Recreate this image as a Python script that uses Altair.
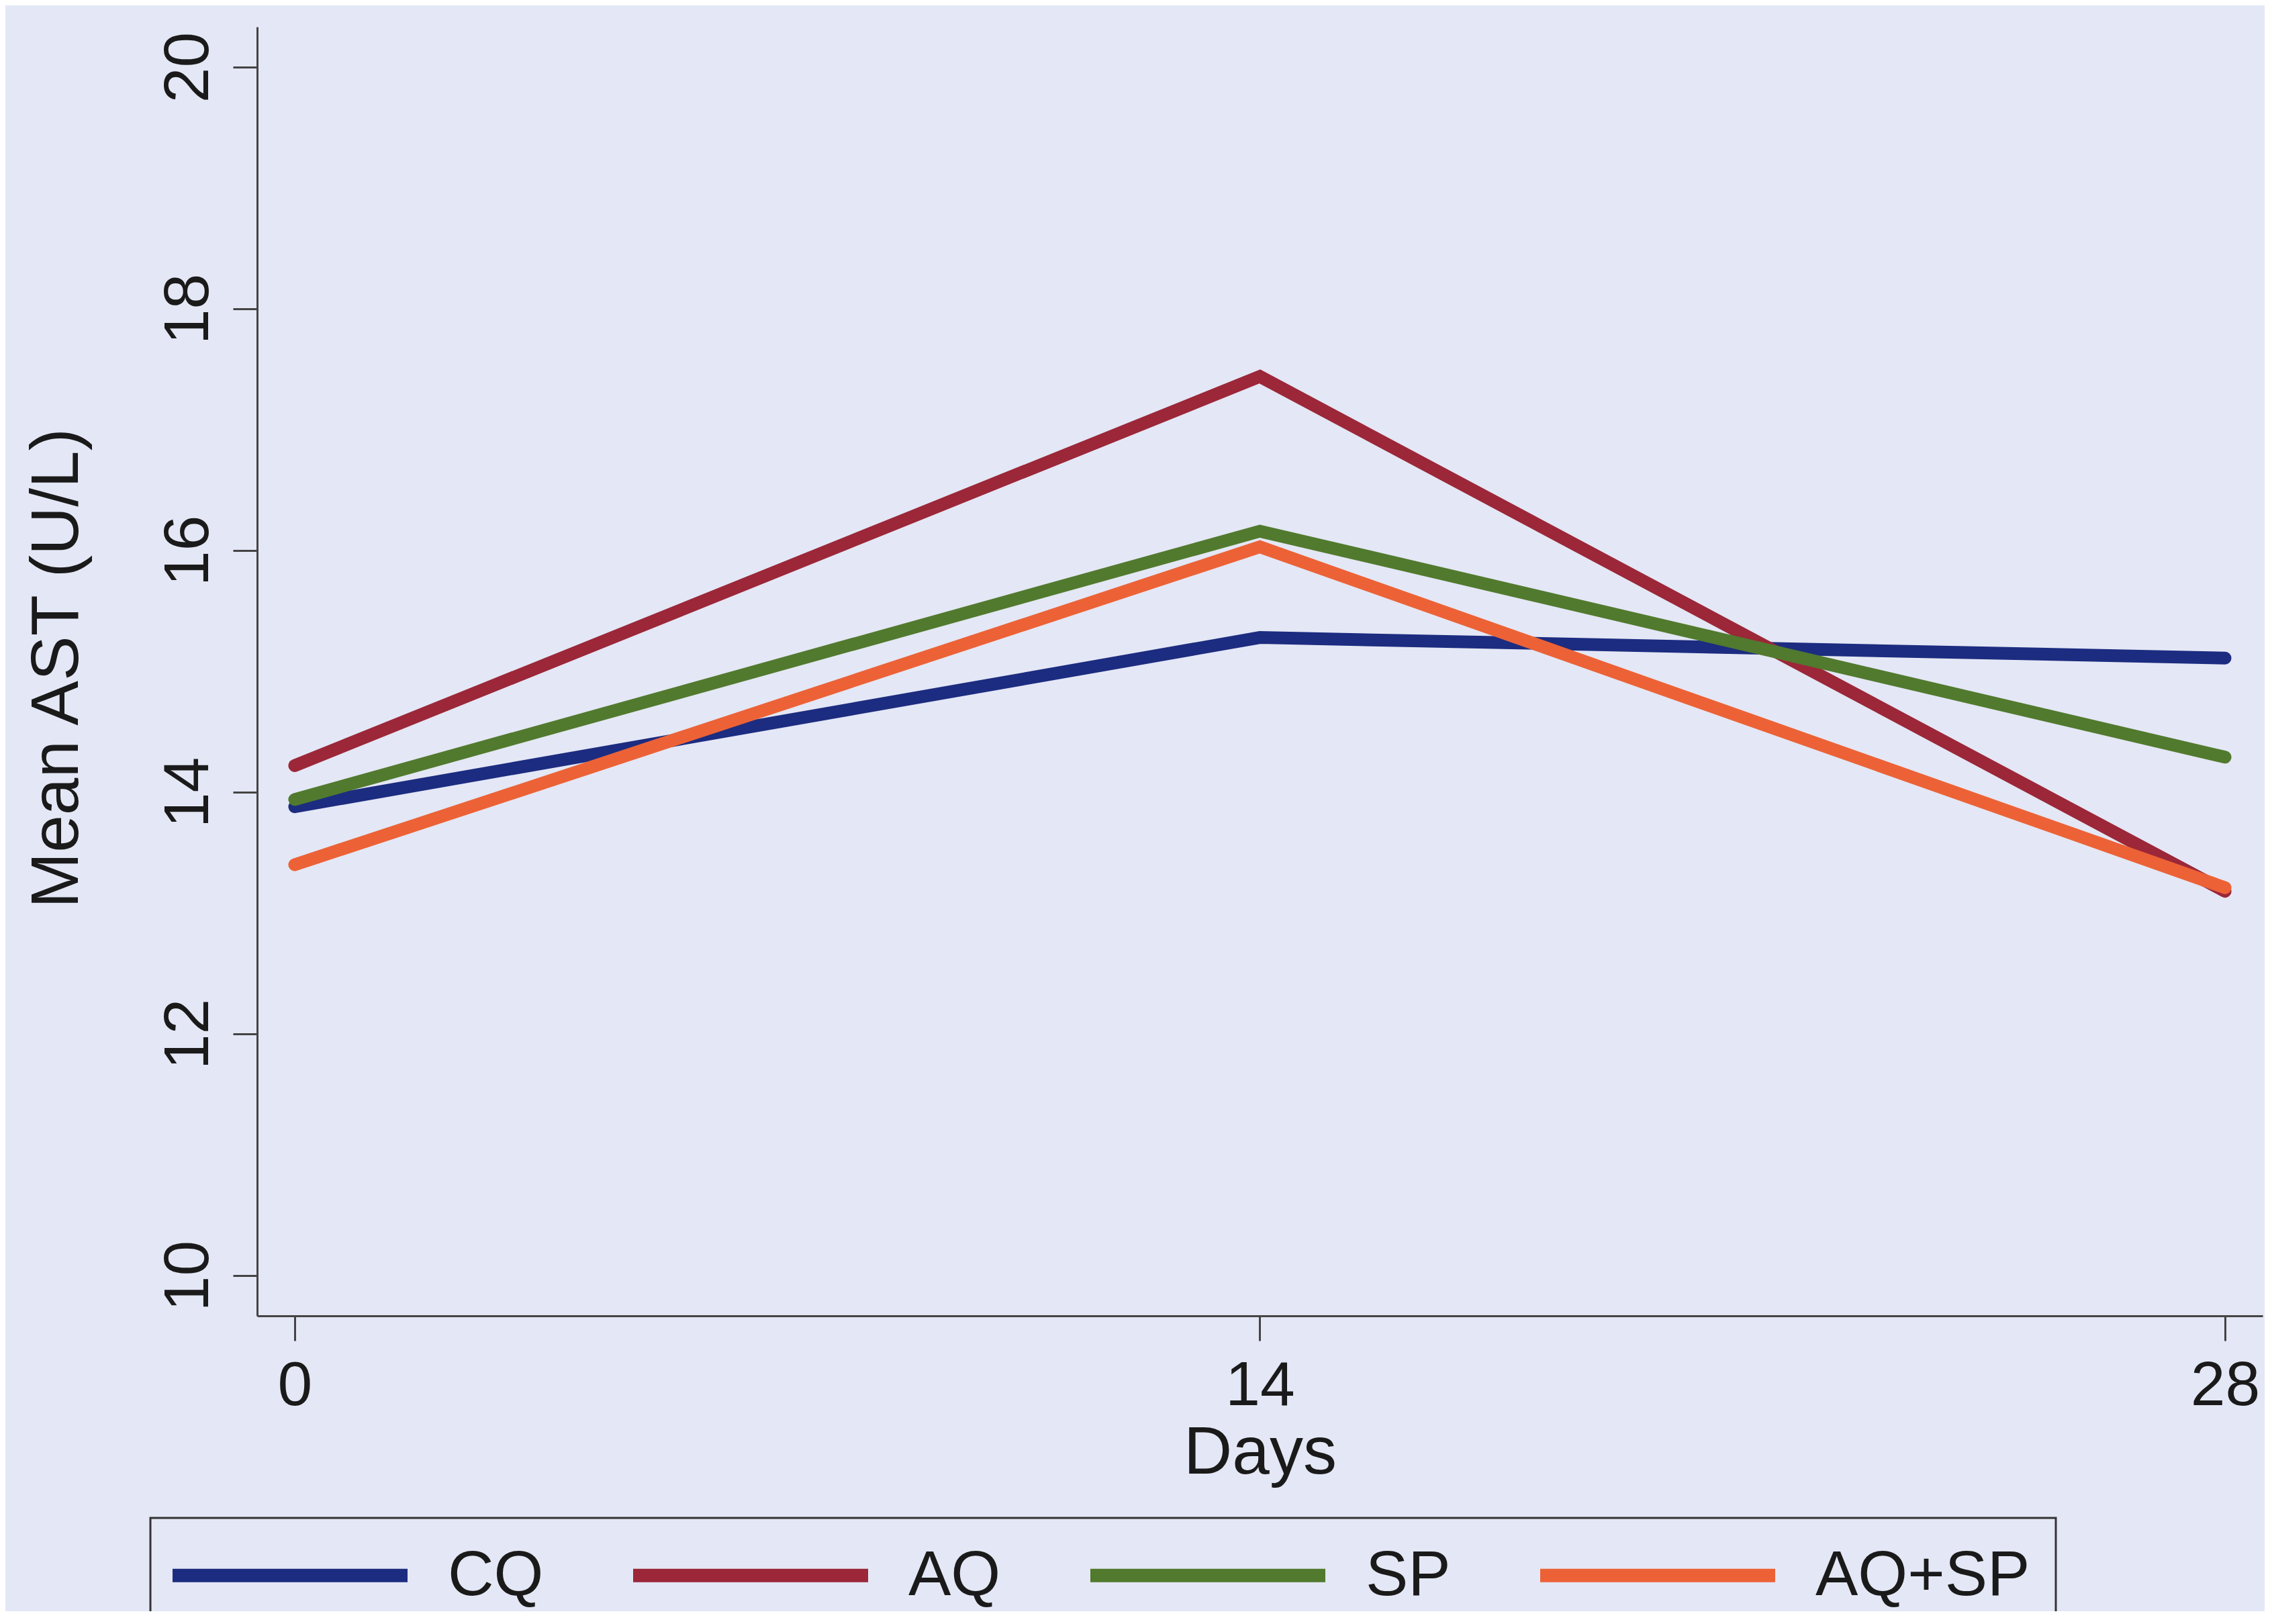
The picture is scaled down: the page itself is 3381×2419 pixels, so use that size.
import altair as alt
import pandas as pd

days = [0, 14, 28]
groups = ["CQ", "AQ", "SP", "AQ+SP"]
cq = [13.88, 15.28, 15.11]
aq = [14.22, 17.44, 13.18]
sp = [13.94, 16.16, 14.29]
aqsp = [13.40, 16.03, 13.21]
colors = ["#1c2c80", "#9b2738", "#517a2e", "#ec6236"]
y_ticks = [10, 12, 14, 16, 18, 20]
x_ticks = [0, 14, 28]

rows = []
for g, vals in zip(groups, [cq, aq, sp, aqsp]):
    for d, v in zip(days, vals):
        rows.append({"Days": d, "AST": v, "Group": g})
df = pd.DataFrame(rows)

bg = "#e4e7f5"
axis_col = "#444444"
txt_col = "#1a1a1a"

chart = alt.Chart(df).mark_line(strokeWidth=19, strokeCap="round", strokeJoin="miter").encode(
    x=alt.X(
        "Days:Q",
        scale=alt.Scale(domain=[-0.545, 28.545], nice=False, zero=False),
        axis=alt.Axis(
            values=x_ticks, title="Days", grid=False, tickSize=37, tickWidth=3,
            tickColor=axis_col, domainColor=axis_col, domainWidth=3,
            labelFontSize=93, labelPadding=22, labelFlush=False, labelOverlap=False,
            labelColor=txt_col, titleFontSize=100, titleFontWeight="normal",
            titleColor=txt_col, titleY=234, titleBaseline="alphabetic",
        ),
    ),
    y=alt.Y(
        "AST:Q",
        scale=alt.Scale(domain=[9.667, 20.333], nice=False, zero=False),
        axis=alt.Axis(
            values=y_ticks, title="Mean AST (U/L)", grid=False, tickSize=36, tickWidth=3,
            tickColor=axis_col, domainColor=axis_col, domainWidth=3,
            labelAngle=270, labelAlign="center", labelBaseline="alphabetic",
            labelPadding=38, labelFontSize=95, labelFlush=False, labelOverlap=False,
            labelColor=txt_col, titleFontSize=100, titleFontWeight="normal",
            titleColor=txt_col, titleAngle=270, titleX=-268, titleY=955,
            titleAlign="center", titleBaseline="alphabetic",
        ),
    ),
    color=alt.Color(
        "Group:N",
        scale=alt.Scale(domain=groups, range=colors),
        legend=alt.Legend(
            title=None, orient="none", legendX=-159, legendY=2221,
            direction="horizontal", symbolType="M-1.5,0L8.5,0", symbolSize=4900,
            symbolStrokeWidth=20, labelFontSize=95, labelOffset=310,
            labelLimit=1000, labelColor=txt_col, columnPadding=93, padding=38,
            strokeColor="#333333", fillColor=bg,
        ),
    ),
).properties(
    width=2987,
    height=1920,
    background=bg,
    padding={"left": 375, "top": 32, "right": 3, "bottom": 440},
    autosize=alt.AutoSizeParams(type="none"),
).configure(
    font="Liberation Sans",
).configure_view(
    stroke="transparent",
).configure_legend(
    strokeWidth=3,
)

chart.save("out.html", embed_options={"renderer": "svg", "actions": False})
